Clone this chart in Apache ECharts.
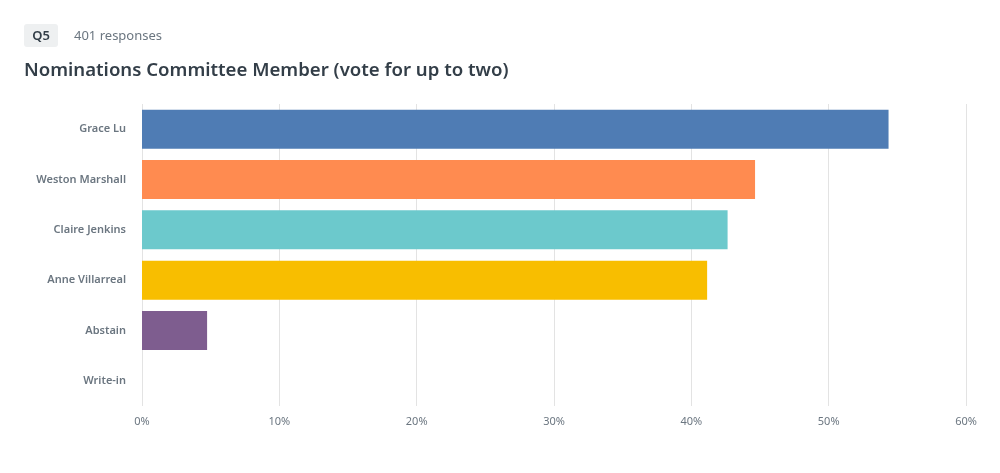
<!DOCTYPE html>
<html>
<head>
<meta charset="utf-8">
<script src="https://cdn.jsdelivr.net/npm/echarts@6/dist/echarts.min.js"></script>
<style>
  html, body { margin: 0; padding: 0; background: #fff; }
  #chart { width: 1000px; height: 473px; }
</style>
</head>
<body>
<div id="chart"></div>
<script>
const categories = ['Grace Lu', 'Weston Marshall', 'Claire Jenkins', 'Anne Villarreal', 'Abstain', 'Write-in'];
const percents = [54.36, 44.64, 42.64, 41.15, 4.74, 0];
const barColors = ['#4f7cb4', '#ff8b50', '#6cc9cc', '#f8be00', '#7e5d8f', '#9aa3aa'];
const tickLabels = ['0%', '10%', '20%', '30%', '40%', '50%', '60%'];

const myChart = echarts.init(document.getElementById('chart'));
const font = '"Noto Sans", Roboto, sans-serif';

const options = {
  animation: false,
  textStyle: { fontFamily: font },
  title: {
    text: 'Nominations Committee Member (vote for up to two)',
    left: 19,
    top: 56,
    textStyle: { fontSize: 18.6, fontWeight: 600, color: '#333e48', fontFamily: font },
  },
  graphic: [
    {
      type: 'rect',
      shape: { x: 24, y: 24, width: 34, height: 23, r: 3 },
      style: { fill: '#eef0f1' },
    },
    {
      type: 'text',
      x: 41,
      y: 36,
      style: {
        text: 'Q5', fill: '#333e48', font: '600 13px ' + font,
        align: 'center', verticalAlign: 'middle',
      },
    },
    {
      type: 'text',
      x: 74,
      y: 36,
      style: {
        text: '401 responses', fill: '#6b7680', font: '13px ' + font,
        verticalAlign: 'middle',
      },
    },
  ],
  grid: { left: 142, right: 34, top: 104, height: 302, containLabel: false },
  xAxis: {
    type: 'value',
    min: 0,
    max: 60,
    interval: 10,
    axisLine: { show: false },
    axisTick: { show: false },
    splitLine: { lineStyle: { color: '#e3e3e3', width: 1 } },
    axisLabel: {
      color: '#6b7680',
      fontSize: 11,
      margin: 10,
      formatter: (v) => tickLabels[v / 10],
    },
  },
  yAxis: {
    type: 'category',
    data: categories,
    inverse: true,
    axisLine: { show: false },
    axisTick: { show: false },
    axisLabel: { color: '#6b7680', fontSize: 11, fontWeight: 600, margin: 16 },
  },
  series: [{
    type: 'bar',
    barWidth: 39,
    data: percents.map((v, i) => ({ value: v, itemStyle: { color: barColors[i] } })),
  }],
};
myChart.setOption(options);
</script>
</body>
</html>
